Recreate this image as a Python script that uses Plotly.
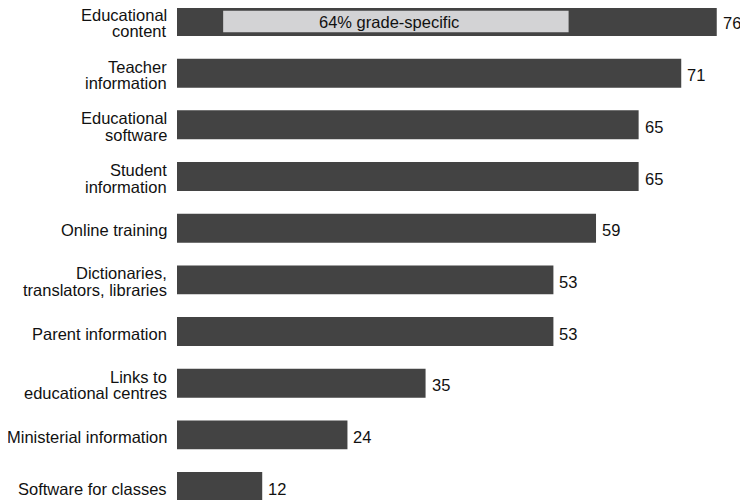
import plotly.graph_objects as go

categories = [
    "Educational<br>content",
    "Teacher<br>information",
    "Educational<br>software",
    "Student<br>information",
    "Online training",
    "Dictionaries,<br>translators, libraries",
    "Parent information",
    "Links to<br>educational centres",
    "Ministerial information",
    "Software for classes",
]
values = [76, 71, 65, 65, 59, 53, 53, 35, 24, 12]
grade_specific_pct = 64
grade_specific_label = "64% grade-specific"

FONT = "Liberation Sans, Arial, Helvetica, sans-serif"
FS = 16.5
DARK = "#434343"
LIGHT = "#d3d3d5"

pos = list(range(len(categories)))

fig = go.Figure()
fig.add_trace(go.Bar(
    x=values, y=pos, orientation="h", width=0.56,
    marker=dict(color=DARK, line=dict(width=0)),
    hoverinfo="skip", showlegend=False,
))

# inner grade-specific bar inside the first bar
inner_len = values[0] * grade_specific_pct / 100
inner_start = 6.5
fig.add_trace(go.Bar(
    x=[inner_len], y=[pos[0]], base=[inner_start], orientation="h", width=0.42,
    marker=dict(color=LIGHT, line=dict(width=0)),
    hoverinfo="skip", showlegend=False,
))

annotations = []
# value labels
for p, v in zip(pos, values):
    annotations.append(dict(
        x=v, y=p, xref="x", yref="y", text=str(v), showarrow=False,
        xanchor="left", yanchor="middle", xshift=4, yshift=-2,
        font=dict(family=FONT, size=FS, color="#111"),
    ))
# category labels (line by line, tight spacing)
for p, c in zip(pos, categories):
    lines = c.split("<br>")
    if len(lines) == 1:
        shifts = [-2]
    else:
        shifts = [6.5, -10]
    for ln, sh in zip(lines, shifts):
        annotations.append(dict(
            x=0, y=p, xref="paper", yref="y", text=ln, showarrow=False,
            xanchor="right", yanchor="middle", xshift=-8, yshift=sh,
            font=dict(family=FONT, size=FS, color="#111"),
        ))
# label on the inner bar
annotations.append(dict(
    x=inner_start + inner_len * 0.48, y=pos[0], xref="x", yref="y",
    text=grade_specific_label, showarrow=False,
    xanchor="center", yanchor="middle", yshift=-1,
    font=dict(family=FONT, size=FS, color="#111"),
))

# page body has an 8px margin, so the figure is shifted to compensate
fig.update_layout(
    width=740, height=492,
    margin=dict(l=169, r=0, t=0, b=0),
    plot_bgcolor="white", paper_bgcolor="white",
    barmode="overlay",
    xaxis=dict(range=[0, 80.4], visible=False, fixedrange=True),
    yaxis=dict(range=[9.26, -0.261], visible=False, fixedrange=True),
    annotations=annotations,
    font=dict(family=FONT, size=FS),
)

fig.write_html("out.html")
